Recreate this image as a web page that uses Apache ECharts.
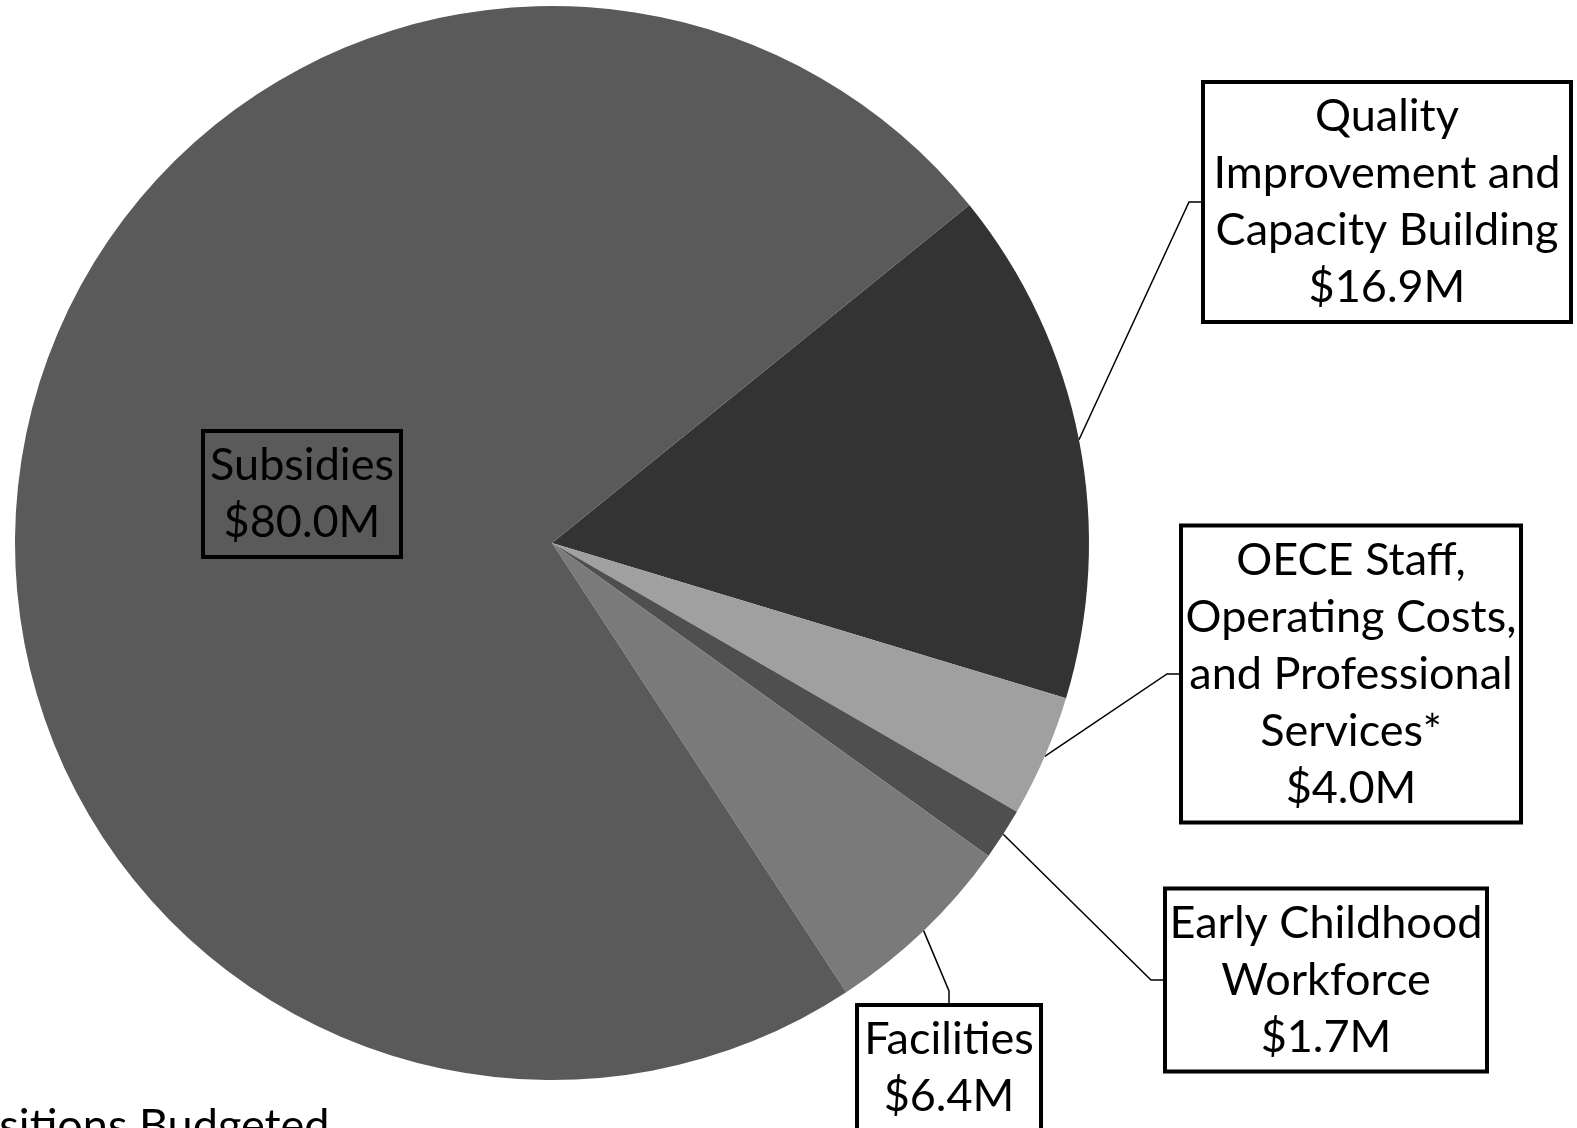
<!DOCTYPE html>
<html>
<head>
<meta charset="utf-8">
<script src="https://cdn.jsdelivr.net/npm/echarts@6/dist/echarts.min.js"></script>
<style>
  html, body { margin: 0; padding: 0; background: #fff; }
  #chart { width: 1577px; height: 1128px; }
</style>
</head>
<body>
<div id="chart"></div>
<script>
// budget categories, clockwise from the upper right
const categories = [
  'Quality\nImprovement and\nCapacity Building',
  'OECE Staff,\nOperating Costs,\nand Professional\nServices*',
  'Early Childhood\nWorkforce',
  'Facilities',
  'Subsidies'
]
const amounts = [16.9, 4.0, 1.7, 6.4, 80.0] // $M
const sliceColors = ['#333333', '#a0a0a0', '#4f4f4f', '#7a7a7a', '#5a5a5a']

// label box centres (px) and text widths
const labelPos = [[1387, 202], [1351, 674], [1326, 980], [949, 1068], [302, 494]]
const labelWidth = [352, 324, 306, 168, 182]

const chart = echarts.init(document.getElementById('chart'))
const font = 'Lato, "Open Sans", sans-serif'

const seriesData = categories.map((name, i) => {
  return {
    name: name,
    value: amounts[i],
    itemStyle: { color: sliceColors[i] },
    label: { width: labelWidth[i] },
    labelLine: { show: i !== 4 }
  }
})

const option = {
  animation: false,
  series: [
    {
      type: 'pie',
      center: [552, 543],
      radius: 537,
      startAngle: 39,
      clockwise: true,
      avoidLabelOverlap: false,
      emphasis: { disabled: true },
      data: seriesData,
      itemStyle: { borderWidth: 0 },
      label: {
        show: true,
        position: 'outside',
        formatter: (p) => `${p.name}\n$${p.value.toFixed(1)}M`,
        color: '#000',
        fontFamily: font,
        fontSize: 45,
        lineHeight: 57,
        align: 'center',
        overflow: 'none',
        backgroundColor: 'rgba(255,255,255,0)',
        borderColor: '#000',
        borderWidth: 2,
        padding: [6, 8]
      },
      labelLine: {
        show: true,
        length: 20,
        length2: 12,
        smooth: false,
        lineStyle: { color: '#000', width: 1.5 }
      },
      labelLayout: (params) => {
        const pos = labelPos[params.dataIndex]
        return {
          x: pos[0],
          y: pos[1],
          align: 'center',
          verticalAlign: 'middle'
        }
      }
    }
  ],
  graphic: [
    {
      type: 'text',
      left: -52,
      top: 1104,
      style: {
        text: 'Positions Budgeted',
        fill: '#000',
        font: '45px ' + font
      }
    }
  ]
}
chart.setOption(option)
</script>
</body>
</html>
